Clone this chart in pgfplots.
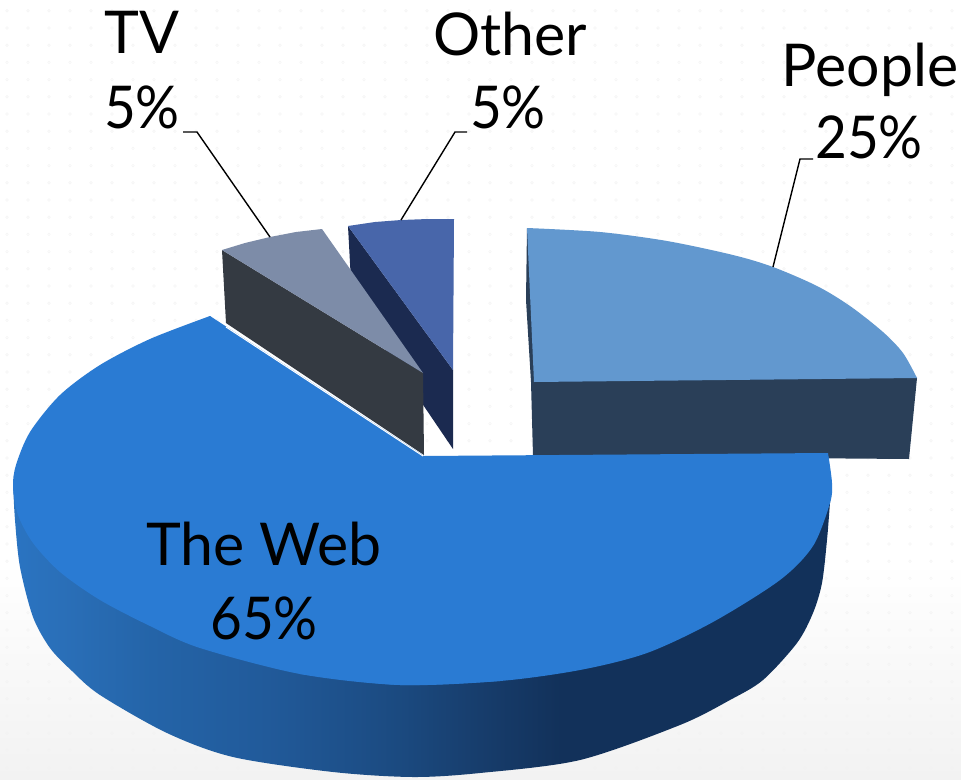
\documentclass[border=0pt]{standalone}
\usepackage{fontspec}
\setmainfont{Lato}
\usepackage{pgfplots}
\pgfplotsset{compat=1.18}

\definecolor{webtop}{HTML}{2A7BD3}
\definecolor{peopletop}{HTML}{6298CF}
\definecolor{peopleside}{HTML}{2A3F58}
\definecolor{tvtop}{HTML}{7D8CA8}
\definecolor{tvside}{HTML}{343A42}
\definecolor{othertop}{HTML}{4866AA}
\definecolor{otherside}{HTML}{1B2A50}
\definecolor{wsa}{HTML}{2A74C2}
\definecolor{wsb}{HTML}{2A6FB8}
\definecolor{wsc}{HTML}{2464A8}
\definecolor{wsd}{HTML}{215A9A}
\definecolor{wse}{HTML}{1B4A80}
\definecolor{wsf}{HTML}{173D6C}
\definecolor{wsg}{HTML}{12315A}
\definecolor{bgbottom}{HTML}{F2F2F2}

% bbox of a shaded path maps to 25bp..75bp
\pgfdeclarehorizontalshading{webside}{100bp}{
  color(0bp)=(wsa); color(25bp)=(wsa); color(28bp)=(wsb); color(33.5bp)=(wsc);
  color(40.5bp)=(wsd); color(48.5bp)=(wse); color(53.5bp)=(wsf); color(58.5bp)=(wsg);
  color(100bp)=(wsg)}

\pgfdeclareverticalshading{pagebg}{100bp}{
  color(0bp)=(bgbottom); color(25bp)=(bgbottom); color(39bp)=(white); color(100bp)=(white)}

\newcommand{\lab}[3]{\node[anchor=base,inner sep=0pt,font=\fontsize{59}{70}\selectfont] at (axis cs:#1,#2) {#3};}
\newcommand{\labp}[3]{\node[anchor=base,inner sep=0pt,xscale=.93,font=\fontsize{59}{70}\selectfont] at (axis cs:#1,#2) {#3};}

\begin{document}
\begin{tikzpicture}
  % page background, faint dot pattern
  \shade[shading=pagebg] (0pt,0pt) rectangle (961pt,779pt);
  \foreach \i in {0,...,45}{
    \foreach \j in {0,...,44}{
      \draw[black!5,line width=.4pt] ({(7+21*\i)*1pt},{(779-10.8-17.2*\j)*1pt}) circle (1.3pt);
    }
  }
  \begin{axis}[
    at={(0pt,0pt)},anchor=south west,
    scale only axis,width=961pt,height=779pt,
    xmin=0,xmax=961,ymin=0,ymax=779,y dir=reverse,
    hide axis,clip=true,
    ]
    % The Web, side wall (bottom edge, chord hidden by the top face)
    \addplot[smooth,draw=none,shading=webside] coordinates {
      (13,483) (15,520) (20,567) (33,617) (50,648) (72,671) (100,695) (167,733) (233,757)
      (333,772) (413,777) (480,773) (580,760) (680,725) (730,700) (763,680) (797,643)
      (813,613) (822,583) (827,540) (830,503) (832,483)
    };
    % Other
    \addplot[draw=none,fill=otherside] coordinates {(348,226) (352,300) (453,449) (453,370)} --cycle;
    \addplot[draw=none,fill=othertop] coordinates {(348,226) (375,222) (401,220) (428,219) (454,219) (453,370)} --cycle;
    % TV
    \addplot[draw=none,fill=tvside] coordinates {(222,250) (226,323) (424,455) (423,373)} --cycle;
    \addplot[draw=none,fill=tvtop] coordinates {(222,250) (245,243) (270,237) (296,232) (322,229) (423,373)} --cycle;
    % People
    \addplot[draw=none,fill=peopleside] coordinates {(527,228) (526,300) (531,382) (533,456) (909,459) (917,378)} --cycle;
    \addplot[smooth,draw=none,fill=peopletop] coordinates {
      (527,228) (600,232) (667,241) (733,255) (773,267) (817,286) (850,306) (883,332) (903,353) (917,378)
    };
    \addplot[draw=none,fill=peopletop] coordinates {(527,228) (600,240) (733,265) (850,320) (917,378) (534,382)} --cycle;
    % The Web, top face: two overlapping arc pieces and an inner polygon to the centre
    \addplot[smooth,draw=none,fill=webtop] coordinates {
      (210,316) (150,339) (100,365) (60,395) (30,432) (16,465) (13,487) (18,515) (33,543)
      (60,572) (100,600) (150,626) (200,648) (300,674) (400,685) (500,681)
    };
    \addplot[smooth,draw=none,fill=webtop] coordinates {
      (300,674) (400,685) (500,681) (580,670) (647,653) (713,622) (780,580) (813,546) (830,503) (832,483) (828,453)
    };
    \addplot[draw=none,fill=webtop] coordinates {
      (424,456) (210,316) (120,375) (50,440) (40,500) (100,585) (200,640) (400,675) (580,660) (713,612) (810,520) (828,453)
    } --cycle;
    \addplot[white,line width=1pt] coordinates {(226,327) (423,456)};
    % leader lines
    \addplot[black,line width=1.4pt] coordinates {(183,132) (197,132) (270,237)};
    \addplot[black,line width=1.4pt] coordinates {(467,132) (455,132) (401,220)};
    \addplot[black,line width=1.4pt] coordinates {(813,159) (800,159) (773,267)};
    % labels
    \lab{142}{53}{TV}
    \labp{142}{128}{5\%}
    \lab{510}{55}{Other}
    \labp{508}{128}{5\%}
    \lab{870}{86}{People}
    \labp{869}{158}{25\%}
    \lab{264}{565}{The Web}
    \labp{264}{639}{65\%}
  \end{axis}
\end{tikzpicture}
\end{document}
